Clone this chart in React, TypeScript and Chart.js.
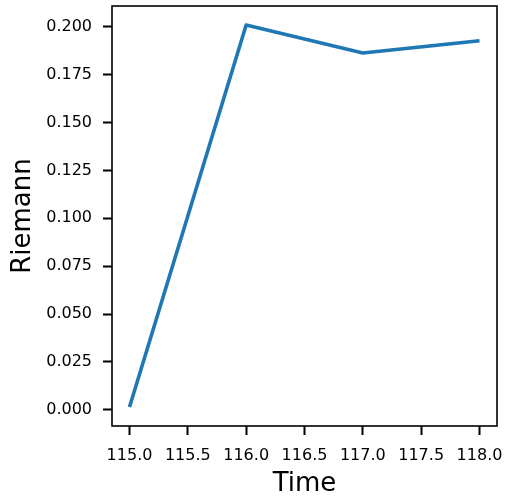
import React, { useEffect, useRef } from "react";
import { Chart, registerables } from "chart.js";

Chart.register(...registerables);

const times: number[] = [115, 116, 117, 118];
const riemann: number[] = [0.0015, 0.2009, 0.1863, 0.1927];
const xTickStep = 0.5;
const yTickStep = 0.025;
const xLabel = "Time";
const yLabel = "Riemann";

const FONT = "'DejaVu Sans', sans-serif";

const framePlugin = {
  id: "frame",
  afterDraw(chart: any) {
    const { ctx, chartArea } = chart;
    ctx.save();
    ctx.strokeStyle = "#000";
    ctx.lineWidth = 1.6;
    ctx.strokeRect(
      chartArea.left,
      chartArea.top,
      chartArea.right - chartArea.left,
      chartArea.bottom - chartArea.top
    );
    ctx.restore();
  },
};

export default function App() {
  const ref = useRef<HTMLCanvasElement | null>(null);

  useEffect(() => {
    document.body.style.margin = "0";
    const canvas = ref.current;
    if (!canvas) return;
    const xMinD = Math.min(...times);
    const xMaxD = Math.max(...times);
    const yMinD = Math.min(...riemann);
    const yMaxD = Math.max(...riemann);
    const xm = (xMaxD - xMinD) * 0.05;
    const ym = (yMaxD - yMinD) * 0.05;

    const chart = new Chart(canvas, {
      type: "line",
      data: {
        datasets: [
          {
            data: times.map((t, i) => ({ x: t, y: riemann[i] })),
            borderColor: "#1f77b4",
            borderWidth: 3.6,
            pointRadius: 0,
            fill: false,
            tension: 0,
            borderJoinStyle: "round",
            borderCapStyle: "butt",
          },
        ],
      },
      options: {
        animation: false,
        responsive: false,
        devicePixelRatio: 1,
        layout: { padding: { top: 6, right: 8, left: 0, bottom: 0 } },
        plugins: { legend: { display: false }, tooltip: { enabled: false } },
        scales: {
          x: {
            type: "linear",
            min: xMinD - xm,
            max: xMaxD + xm,
            afterFit: (s: any) => {
              s.height = 75;
              s.paddingLeft = 0;
              s.paddingRight = 0;
            },
            border: { display: false },
            grid: {
              drawOnChartArea: false,
              drawTicks: true,
              tickLength: 9,
              tickColor: "#000",
              tickWidth: 2,
            },
            ticks: {
              stepSize: xTickStep,
              includeBounds: false,
              maxRotation: 0,
              autoSkip: false,
              padding: 11,
              color: "#000",
              font: { family: FONT, size: 16 },
              callback: (v: any) => Number(v).toFixed(1),
            },
            title: {
              display: true,
              text: xLabel,
              color: "#000",
              font: { family: FONT, size: 26 },
              padding: { top: 0, bottom: 1 },
            },
          },
          y: {
            type: "linear",
            min: yMinD - ym,
            max: yMaxD + ym,
            afterFit: (s: any) => {
              s.width = 112;
              s.paddingTop = 0;
              s.paddingBottom = 0;
            },
            border: { display: false },
            grid: {
              drawOnChartArea: false,
              drawTicks: true,
              tickLength: 9,
              tickColor: "#000",
              tickWidth: 2,
            },
            ticks: {
              stepSize: yTickStep,
              includeBounds: false,
              autoSkip: false,
              padding: 11,
              color: "#000",
              font: { family: FONT, size: 16 },
              callback: (v: any) => Number(v).toFixed(3),
            },
            title: {
              display: true,
              text: yLabel,
              color: "#000",
              font: { family: FONT, size: 26 },
              padding: { top: 8, bottom: 0 },
            },
          },
        },
      },
      plugins: [framePlugin],
    } as any);
    return () => chart.destroy();
  }, []);

  return (
    <div style={{ width: 505, height: 501 }}>
      <canvas ref={ref} width={505} height={501} style={{ display: "block" }} />
    </div>
  );
}
